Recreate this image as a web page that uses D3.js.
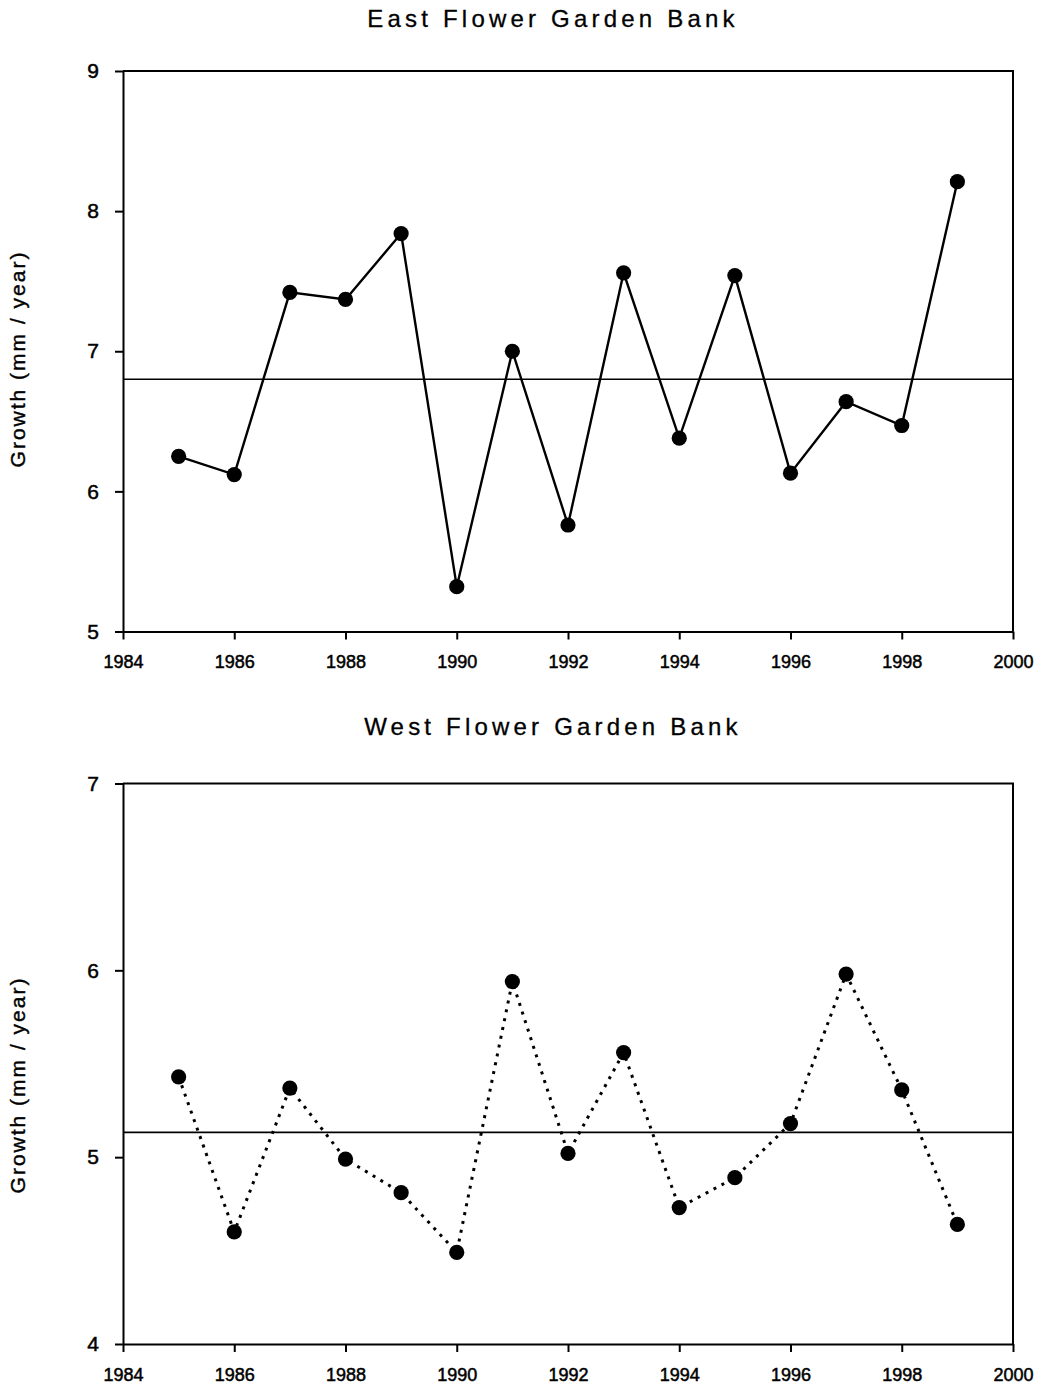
<!DOCTYPE html>
<html>
<head>
<meta charset="utf-8">
<script src="https://cdn.jsdelivr.net/npm/d3@7"></script>
<style>
  body { margin: 0; background: #fff; }
  svg text { font-family: "Liberation Sans", Arial, sans-serif; fill: #000; }
</style>
</head>
<body>
<div id="chart"></div>
<script>
// values
const years = [1985, 1986, 1987, 1988, 1989, 1990, 1991, 1992, 1993, 1994, 1995, 1996, 1997, 1998, 1999]
const eastGrowth = [6.25, 6.12, 7.42, 7.37, 7.84, 5.32, 7.00, 5.76, 7.56, 6.38, 7.54, 6.13, 6.64, 6.47, 8.21]
const westGrowth = [5.43, 4.60, 5.37, 4.99, 4.81, 4.49, 5.94, 5.02, 5.56, 4.73, 4.89, 5.18, 5.98, 5.36, 4.64]
const yearTicks = [1984, 1986, 1988, 1990, 1992, 1994, 1996, 1998, 2000]
const eastTicks = [5, 6, 7, 8, 9]
const westTicks = [4, 5, 6, 7]

const W = 1045, H = 1393

const svg = d3.select("#chart").append("svg")
    .attr("width", W)
    .attr("height", H)

svg.append("rect").attr("width", W).attr("height", H).attr("fill", "#fff")

const x = d3.scaleLinear()
    .domain([1984, 2000])
    .range([123, 1013])

function drawPanel(config) {
    const { title, values, ticks, top, bottom, titleY, labelY, dotted } = config

    const y = d3.scaleLinear()
        .domain(d3.extent(ticks))
        .range([bottom, top])

    const g = svg.append("g")

    // frame (top and right sides)
    g.append("path")
        .attr("d", `M${x.range()[0]},${top}H${x.range()[1]}V${bottom}`)
        .attr("fill", "none")
        .attr("stroke", "#000")
        .attr("stroke-width", 2)

    const xAxis = g.append("g")
        .attr("transform", `translate(0,${bottom})`)
        .call(d3.axisBottom(x).tickValues(yearTicks).tickFormat(d3.format("d"))
            .tickSize(8).tickSizeOuter(0).tickPadding(16))
    xAxis.selectAll("text")
        .style("font-size", "18px")
        .attr("stroke", "#000")
        .attr("stroke-width", 0.5)

    const yAxis = g.append("g")
        .attr("transform", `translate(${x.range()[0]},0)`)
        .call(d3.axisLeft(y).tickValues(ticks).tickFormat(d3.format("d"))
            .tickSize(8).tickSizeOuter(0).tickPadding(16))
    yAxis.selectAll("text")
        .style("font-size", "21px")
        .attr("stroke", "#000")
        .attr("stroke-width", 0.5)

    svg.selectAll(".domain").attr("stroke-width", 2)
    svg.selectAll(".tick line").attr("stroke-width", 2)

    // mean line
    const mean = d3.mean(values)
    g.append("line")
        .attr("x1", x.range()[0])
        .attr("x2", x.range()[1])
        .attr("y1", y(mean))
        .attr("y2", y(mean))
        .attr("stroke", "#000")
        .attr("stroke-width", 1.6)

    const line = d3.line()
        .x((d, i) => x(years[i]))
        .y(d => y(d))

    g.append("path")
        .datum(values)
        .attr("d", line)
        .attr("fill", "none")
        .attr("stroke", "#000")
        .attr("stroke-width", dotted ? 3 : 2.4)
        .attr("stroke-dasharray", dotted ? "3,6" : null)

    g.selectAll("circle")
        .data(values)
        .join("circle")
        .attr("cx", (d, i) => x(years[i]))
        .attr("cy", d => y(d))
        .attr("r", 7.6)
        .attr("fill", "#000")

    g.append("text")
        .attr("x", 553)
        .attr("y", titleY)
        .attr("text-anchor", "middle")
        .style("font-size", "24px")
        .style("letter-spacing", "4.2px")
        .attr("stroke", "#000")
        .attr("stroke-width", 0.3)
        .text(title)

    g.append("text")
        .attr("transform", `translate(25,${labelY}) rotate(-90)`)
        .attr("text-anchor", "middle")
        .style("font-size", "21px")
        .style("letter-spacing", "2px")
        .attr("stroke", "#000")
        .attr("stroke-width", 0.4)
        .text("Growth (mm / year)")
}

drawPanel({
    title: "East Flower Garden Bank",
    values: eastGrowth,
    ticks: eastTicks,
    top: 71,
    bottom: 631.5,
    titleY: 27,
    labelY: 359,
    dotted: false
})

drawPanel({
    title: "West Flower Garden Bank",
    values: westGrowth,
    ticks: westTicks,
    top: 783.5,
    bottom: 1344,
    titleY: 735,
    labelY: 1085,
    dotted: true
})
</script>
</body>
</html>
